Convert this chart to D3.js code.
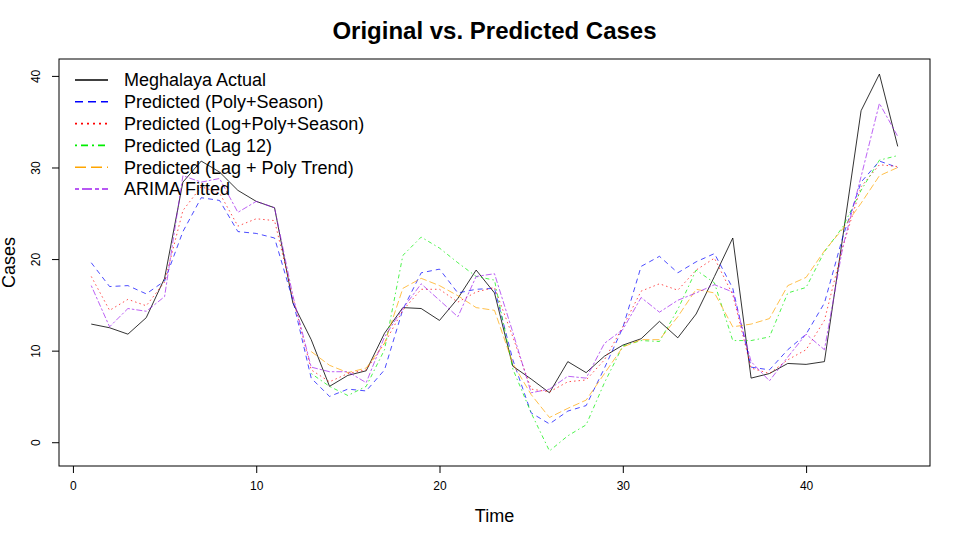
<!DOCTYPE html>
<html><head><meta charset="utf-8">
<script src="https://cdn.jsdelivr.net/npm/d3@7"></script>
<style>
body{margin:0;background:#fff;}
svg{display:block;font-family:"Liberation Sans",Arial,Helvetica,sans-serif;}
</style></head>
<body><svg id="c" width="960" height="540"></svg>
<script>
const time = d3.range(1, 46);
const actual = [12.9,12.5,11.8,13.6,17.9,28.4,30.7,29.5,27.5,26.3,25.6,15.2,11.2,6.1,7.3,7.8,11.9,14.7,14.6,13.3,15.7,18.8,16.3,8.3,6.9,5.4,8.8,7.6,9.4,10.6,11.3,13.2,11.4,14.0,18.1,22.3,7.0,7.5,8.6,8.5,8.8,22.4,36.2,40.2,32.3];
const polySeason = [19.6,17.0,17.1,16.2,17.6,23.0,26.7,26.4,23.0,22.8,22.3,15.5,7.0,5.0,5.8,5.6,7.9,14.5,18.5,18.9,16.3,16.7,16.8,9.0,3.2,2.0,3.4,4.0,8.1,12.5,19.2,20.3,18.5,19.7,20.6,16.8,8.2,7.9,10.1,11.8,15.2,22.4,28.4,30.7,30.0];
const logPolySeason = [18.1,14.4,15.6,14.9,17.5,25.3,27.9,27.2,23.6,24.4,24.2,15.8,7.9,6.6,7.5,7.9,10.8,14.4,16.7,16.7,15.3,16.4,16.9,11.5,5.8,5.5,6.6,6.8,9.0,12.6,16.5,17.3,16.6,18.8,20.1,16.1,8.1,7.5,9.0,10.1,13.3,21.3,27.9,30.3,30.1];
const lag12 = [null,null,null,null,null,null,null,null,null,null,null,null,7.5,6.1,5.1,6.1,10.1,20.4,22.4,21.2,19.6,18.1,17.7,8.0,3.2,-0.95,0.7,1.9,6.5,10.5,11.1,11.0,14.5,18.8,17.4,11.1,11.1,11.5,16.3,16.9,20.8,23.5,27.5,30.8,31.3];
const lagPoly = [null,null,null,null,null,null,null,null,null,null,null,null,9.9,8.4,7.6,8.1,10.8,16.8,17.9,17.1,16.0,14.7,14.4,8.6,5.2,2.7,3.7,4.6,7.5,10.4,11.2,11.2,13.7,16.7,16.3,12.6,12.9,13.5,17.1,18.0,20.9,23.3,26.1,29.1,30.0];
const arima = [17.1,12.6,14.6,14.3,15.9,29.1,28.4,28.8,25.1,26.3,25.6,16.0,8.2,7.7,7.7,6.5,11.5,14.6,17.3,15.5,13.7,18.1,18.4,12.0,5.4,5.8,7.2,7.0,10.8,12.3,15.8,14.2,15.5,16.3,17.2,16.4,8.8,6.7,9.3,11.8,10.1,21.3,29.0,37.0,33.4];
const seriesNames = ["Meghalaya Actual","Predicted (Poly+Season)","Predicted (Log+Poly+Season)","Predicted (Lag 12)","Predicted (Lag + Poly Trend)","ARIMA Fitted"];
const seriesColors = ["#000000","#0000ff","#ff0000","#00ee00","#ffa500","#a020f0"];
const xTicks = [0,10,20,30,40];
const yTicks = [0,10,20,30,40];

const allSeries = [actual, polySeason, logPolySeason, lag12, lagPoly, arima];
const dashes = [null, "5,4", "1.5,3", "1.5,3,4,3", "7,3", "2.5,2,6,2"];
const legDashes = [null, "8,5", "2,4", "2,4,7,4", "11,5", "4,3,10,3"];

const L = 59, R = 930, T = 59, B = 466;
const svg = d3.select("#c");

// R-style 4% axis expansion
const xr = d3.extent(time), xp = (xr[1]-xr[0])*0.04;
const vals = allSeries.flat().filter(v => v != null);
const yr = d3.extent(vals), yp = (yr[1]-yr[0])*0.04;
const x = d3.scaleLinear().domain([xr[0]-xp, xr[1]+xp]).range([L, R]);
const y = d3.scaleLinear().domain([yr[0]-yp, yr[1]+yp]).range([B, T]);

const g = svg.append("g");
allSeries.forEach((s, i) => {
  const line = d3.line().defined(d => d[1] != null).x(d => x(d[0])).y(d => y(d[1]));
  g.append("path")
    .datum(time.map((t, j) => [t, s[j]]))
    .attr("d", line)
    .attr("fill", "none")
    .attr("stroke", seriesColors[i])
    .attr("stroke-opacity", i === 0 ? 0.8 : 0.7)
    .attr("stroke-width", 1)
    .attr("stroke-dasharray", dashes[i]);
});

// box
svg.append("rect").attr("x", L).attr("y", T).attr("width", R-L).attr("height", B-T)
  .attr("fill", "none").attr("stroke", "#000").attr("stroke-width", 1);

// axes
const xAxis = d3.axisBottom(x).tickValues(xTicks).tickSize(7).tickPadding(8);
const xg = svg.append("g").attr("transform", `translate(0,${B})`).call(xAxis);
xg.select(".domain").remove();
xg.selectAll("text").attr("font-size", 12).attr("font-family", "Liberation Sans, Arial, sans-serif").attr("fill", "#000");
xg.selectAll("line").attr("stroke", "#000");

const yAxis = d3.axisLeft(y).tickValues(yTicks).tickSize(7).tickPadding(10);
const yg = svg.append("g").attr("transform", `translate(${L},0)`).call(yAxis);
yg.select(".domain").remove();
yg.selectAll("line").attr("stroke", "#000");
yg.selectAll("text").attr("font-size", 12).attr("font-family", "Liberation Sans, Arial, sans-serif").attr("fill", "#000")
  .attr("text-anchor", "middle").attr("dy", 0).attr("x", 0)
  .attr("transform", d => `translate(-23,0) rotate(-90)`);
yg.selectAll(".tick text").attr("y", 0).attr("dy", "0.35em");

// titles
svg.append("text").attr("x", (L+R)/2).attr("y", 39).attr("text-anchor", "middle")
  .attr("font-size", 24).attr("font-weight", "bold").text("Original vs. Predicted Cases");
svg.append("text").attr("x", (L+R)/2).attr("y", 522).attr("text-anchor", "middle")
  .attr("font-size", 18).text("Time");
svg.append("text").attr("transform", `translate(15,${(T+B)/2}) rotate(-90)`).attr("text-anchor", "middle")
  .attr("font-size", 18).text("Cases");

// legend
const lg = svg.append("g");
seriesNames.forEach((n, i) => {
  const yy = 80 + i*21.8;
  lg.append("line").attr("x1", 75).attr("x2", 108).attr("y1", yy).attr("y2", yy)
    .attr("stroke", seriesColors[i]).attr("stroke-width", 1.6)
    .attr("stroke-dasharray", legDashes[i]);
  lg.append("text").attr("x", 124).attr("y", yy).attr("dy", "0.35em")
    .attr("font-size", 18).text(n);
});
</script></body></html>
